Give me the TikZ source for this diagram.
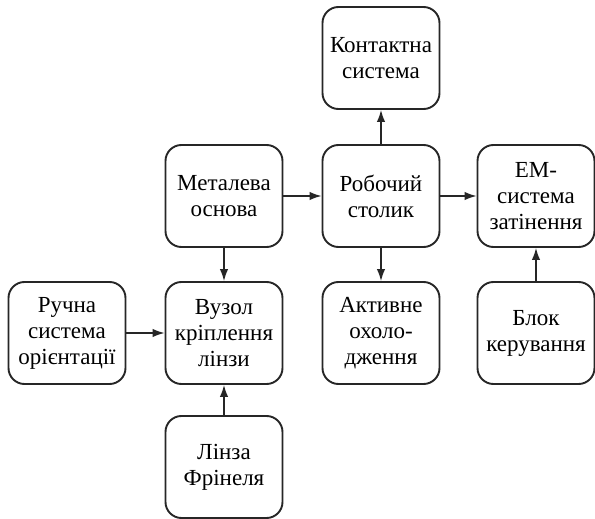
\documentclass[tikz,border=0pt]{standalone}
\usepackage{fontspec}
\setmainfont{Liberation Serif}
\usetikzlibrary{arrows.meta}
\begin{document}
\begin{tikzpicture}[x=1pt,y=-1pt,
  box/.style={draw=black!85, line width=1.9pt, rounded corners=16pt,
    minimum width=117pt, minimum height=102pt, inner sep=0pt,
    align=center, font=\fontsize{23}{26}\selectfont},
  conn/.style={draw=black!85, line width=1.4pt, -{Latex[length=12pt,width=8.5pt]}}]
\useasboundingbox (0,0) rectangle (595,519);
\node[box] (kont) at (381,58) {Контактна\\система};
\node[box] (met) at (224,196) {Металева\\основа};
\node[box] (rob) at (381,196) {Робочий\\столик};
\node[box] (em) at (536,196) {ЕМ-\\система\\затінення};
\node[box] (ruch) at (67,333) {Ручна\\система\\орієнтації};
\node[box] (vuz) at (224,333) {Вузол\\кріплення\\лінзи};
\node[box] (akt) at (381,333) {Активне\\охоло-\\дження};
\node[box] (blok) at (536,333) {Блок\\керування};
\node[box] (linz) at (224,467) {Лінза\\Фрінеля};
\draw[conn] (met) -- (rob);
\draw[conn] (rob) -- (em);
\draw[conn] (rob) -- (kont);
\draw[conn] (rob) -- (akt);
\draw[conn] (met) -- (vuz);
\draw[conn] (ruch) -- (vuz);
\draw[conn] (linz) -- (vuz);
\draw[conn] (blok) -- (em);
\end{tikzpicture}
\end{document}
